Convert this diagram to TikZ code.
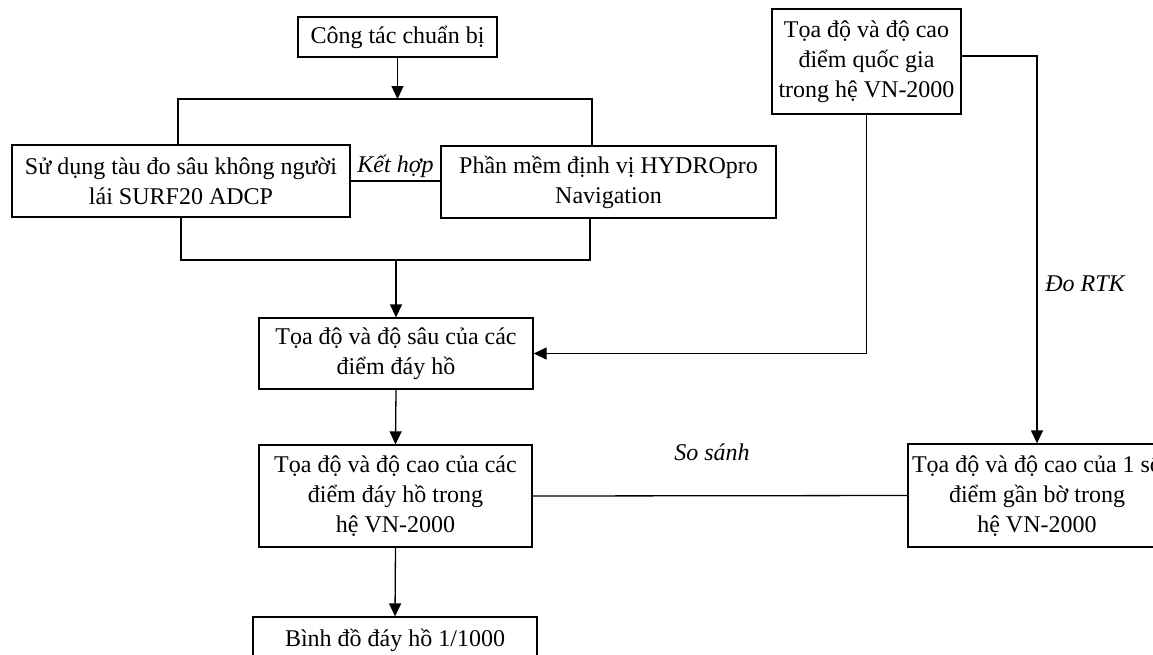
\documentclass[tikz,border=0pt]{standalone}
\usepackage{fontspec}
\setmainfont{Liberation Serif}
\usetikzlibrary{arrows.meta}
\begin{document}
\begin{tikzpicture}[x=1pt,y=-1pt,
  box/.style={draw, line width=1.3pt, align=center, inner sep=0pt, font=\fontsize{24}{30}\selectfont},
  conn/.style={line width=1.3pt},
  arr/.style={line width=1.3pt, -{Triangle[length=13pt,width=12pt]}},
  lbl/.style={font=\fontsize{24}{30}\selectfont\itshape, inner sep=1pt}]
\clip (0,0) rectangle (1153,654);
\fill[white] (0,0) rectangle (1153,654);

\node[box, minimum width=199pt, minimum height=40pt] (A) at (397.5,37) {Công tác chuẩn bị};
\node[box, minimum width=338pt, minimum height=72pt] (B) at (181,181) {Sử dụng tàu đo sâu không người\\lái SURF20 ADCP};
\node[box, minimum width=335pt, minimum height=72pt] (C) at (608.5,182) {Phần mềm định vị HYDROpro\\Navigation};
\node[box, minimum width=274pt, minimum height=71pt] (D) at (396,353.5) {Tọa độ và độ sâu của các\\điểm đáy hồ};
\node[box, minimum width=273pt, minimum height=102pt] (E) at (395.5,496) {Tọa độ và độ cao của các\\điểm đáy hồ trong\\hệ VN-2000};
\node[box, minimum width=284pt, minimum height=46pt] (F) at (395,640) {Bình đồ đáy hồ 1/1000};
\node[box, minimum width=189pt, minimum height=105pt] (H) at (866.5,61.5) {Tọa độ và độ cao\\điểm quốc gia\\trong hệ VN-2000};
\node[box, minimum width=258pt, minimum height=103pt] (G) at (1037,495.5) {Tọa độ và độ cao của 1 số\\điểm gần bờ trong\\hệ VN-2000};

\coordinate (tl) at (178,99);
\coordinate (tr) at (592,99);
\coordinate (bl) at (181,260);
\coordinate (br) at (590,260);
\coordinate (rt) at (1037,56);

% top split
\draw[arr] (A.south) -- (A.south |- tl);
\draw[conn] (B.north -| tl) |- (tr) -- (C.north -| tr);
% combine line
\draw[conn] (B.east) -- (B.east -| C.west) node[lbl, midway, above, yshift=2pt] {Kết hợp};
% bottom merge
\draw[conn] (B.south -| bl) |- (br) -- (C.south -| br);
\draw[arr] (bl -| D.north) -- (D.north);
% main chain
\draw[arr] (D.south) -- (E.north);
\draw[arr] (E.south) -- (F.north);
% from national points
\draw[arr] (H.south) |- (D.east);
\draw[arr] (H.east |- rt) -| (G.north);
\node[lbl] (rtk) at (1085,284) {Đo RTK};
% compare
\draw[conn] (E.east) -- (G.west);
\node[lbl] (ss) at (712,452) {So sánh};
\end{tikzpicture}
\end{document}
